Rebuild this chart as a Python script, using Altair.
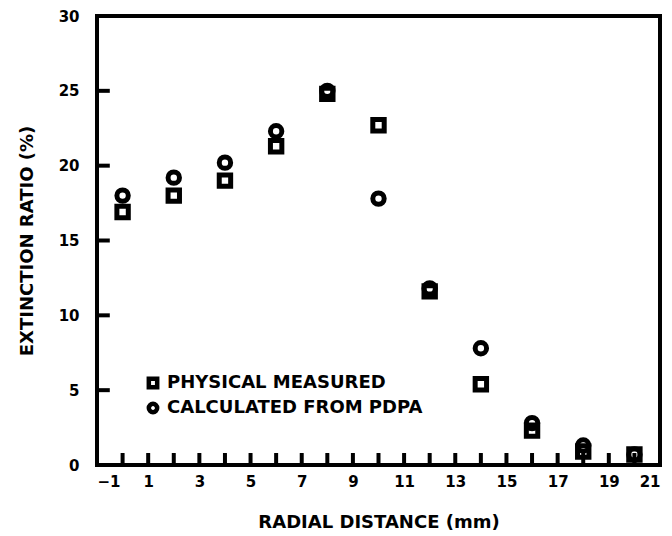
import altair as alt
import pandas as pd

radial = [0, 2, 4, 6, 8, 10, 12, 14, 16, 18, 20]
measured = [16.9, 18.0, 19.0, 21.3, 24.8, 22.7, 11.6, 5.4, 2.3, 0.9, 0.7]
calculated = [18.0, 19.2, 20.2, 22.3, 25.0, 17.8, 11.8, 7.8, 2.8, 1.3, 0.7]
series_names = ["PHYSICAL MEASURED", "CALCULATED FROM PDPA"]

x_tick_pos = list(range(0, 21))
y_tick_pos = [5, 10, 15, 20, 25]
x_labels = [-1, 1, 3, 5, 7, 9, 11, 13, 15, 17, 19, 21]
y_labels = [0, 5, 10, 15, 20, 25, 30]

rows = []
for x, m in zip(radial, measured):
    rows.append({"r": x, "v": m, "s": series_names[0]})
for x, c in zip(radial, calculated):
    rows.append({"r": x, "v": c, "s": series_names[1]})
df = pd.DataFrame(rows)

xt = pd.DataFrame({"r": x_tick_pos, "v": [0] * len(x_tick_pos), "v2": [0.8] * len(x_tick_pos)})
yt = pd.DataFrame({"v": y_tick_pos, "r": [-1] * len(y_tick_pos), "r2": [-0.5] * len(y_tick_pos)})

FONT = "DejaVu Sans"

xscale = alt.Scale(domain=[-1, 21], nice=False, zero=False)
yscale = alt.Scale(domain=[0, 30], nice=False, zero=False)

xaxis = alt.Axis(values=x_labels, title="RADIAL DISTANCE (mm)", ticks=False, domain=False, grid=False,
                 labelFont=FONT, labelFontSize=15, labelFontWeight="bold", labelColor="black",
                 labelPadding=9, titleFont=FONT, titleFontSize=18, titleFontWeight="bold",
                 titleColor="black", titlePadding=24)
yaxis = alt.Axis(values=y_labels, title="EXTINCTION RATIO (%)", ticks=False, domain=False, grid=False,
                 labelFont=FONT, labelFontSize=15, labelFontWeight="bold", labelColor="black",
                 labelPadding=18, titleFont=FONT, titleFontSize=18, titleFontWeight="bold",
                 titleColor="black", titlePadding=22)

X = alt.X("r:Q", scale=xscale, axis=xaxis)
Y = alt.Y("v:Q", scale=yscale, axis=yaxis)

points = alt.Chart(df).mark_point(filled=False, strokeWidth=5, size=130, color="black", opacity=1).encode(
    x=X,
    y=Y,
    shape=alt.Shape("s:N", scale=alt.Scale(domain=series_names, range=["square", "circle"]),
                    sort=series_names,
                    legend=alt.Legend(title=None, orient="none", legendX=47, legendY=358,
                                      labelFont=FONT, labelFontSize=18, labelFontWeight="bold",
                                      labelColor="black", symbolStrokeColor="black",
                                      symbolStrokeWidth=4.5, symbolSize=70, symbolFillColor="white",
                                      rowPadding=-3, labelOffset=5, padding=0, labelLimit=0)),
)

xticks = alt.Chart(xt).mark_rule(color="black", strokeWidth=4).encode(
    x=X,
    y=Y,
    y2="v2:Q",
)
yticks = alt.Chart(yt).mark_rule(color="black", strokeWidth=4).encode(
    y=Y,
    x=X,
    x2="r2:Q",
)

chart = alt.layer(xticks, yticks, points).properties(
    width=563, height=449,
    autosize=alt.AutoSizeParams(type="none"),
    padding={"left": 97, "top": 16, "right": 12, "bottom": 71},
    background="white",
).configure_view(stroke="black", strokeWidth=4)

chart.save("out.html", embed_options={"renderer": "svg", "actions": False})
